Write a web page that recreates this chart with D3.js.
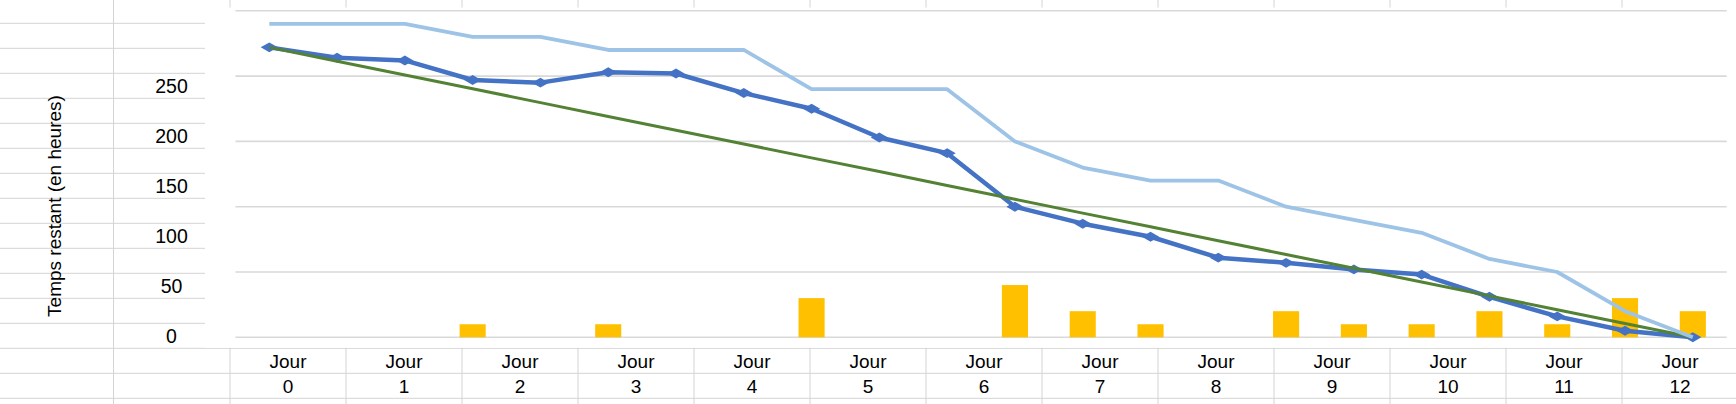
<!DOCTYPE html>
<html>
<head>
<meta charset="utf-8">
<script src="https://cdn.jsdelivr.net/npm/d3@7"></script>
<style>
  html, body { margin: 0; padding: 0; background: #fff; }
  svg { display: block; }
  text { font-family: "Liberation Sans", Arial, sans-serif; fill: #000; }
</style>
</head>
<body>
<svg id="chart" width="1736" height="404"></svg>
<script>
// ---- data ----
const steps = [0, 1, 2, 3, 4, 5, 6, 7, 8, 9, 10, 11, 12, 13, 14, 15, 16, 17, 18, 19, 20, 21];
const remaining = [222, 214, 212, 197, 195, 203, 202, 187, 175, 153, 141, 100, 87, 77, 61, 57, 52, 48, 31, 16, 5, 0];
const estimate = [240, 240, 240, 230, 230, 220, 220, 220, 190, 190, 190, 150, 130, 120, 120, 100, 90, 80, 60, 50, 20, 0];
const ideal = [222, 211.4, 200.9, 190.3, 179.7, 169.1, 158.6, 148, 137.4, 126.9, 116.3, 105.7, 95.1, 84.6, 74, 63.4, 52.9, 42.3, 31.7, 21.1, 10.6, 0];
const added = [0, 0, 0, 10, 0, 10, 0, 0, 30, 0, 0, 40, 20, 10, 0, 20, 10, 10, 20, 10, 30, 20];
const yTicks = [0, 50, 100, 150, 200, 250];
const dayLabels = ["0", "1", "2", "3", "4", "5", "6", "7", "8", "9", "10", "11", "12"];
const yTitle = "Temps restant (en heures)";

// ---- layout ----
const W = 1736, H = 404;
const svg = d3.select("#chart");
const cellLine = "#d4d4d4";

// spreadsheet background grid
const rowYs = d3.range(0, 16).map(k => 23.3 + 25 * k);
const colScale = d3.scaleBand().domain(dayLabels).range([230, 230 + 116 * dayLabels.length]);

svg.append("g").selectAll("line").data(rowYs).join("line")
  .attr("x1", 0).attr("x2", W).attr("y1", d => d).attr("y2", d => d)
  .attr("stroke", cellLine).attr("stroke-width", 1);
svg.append("line").attr("x1", 113.5).attr("x2", 113.5).attr("y1", 0).attr("y2", H)
  .attr("stroke", cellLine);
svg.append("g").selectAll("line").data(dayLabels).join("line")
  .attr("x1", d => colScale(d)).attr("x2", d => colScale(d)).attr("y1", 0).attr("y2", H)
  .attr("stroke", cellLine);

// chart object (white) covering grid
svg.append("rect").attr("x", 205).attr("y", 7.6).attr("width", W - 205).attr("height", 348.3 - 7.6 - 0.5)
  .attr("fill", "#fff");

// y tick labels in cells
const labelY = d3.scaleLinear().domain([0, 250]).range([335.8, 85.8]);
svg.append("g").selectAll("text").data(yTicks).join("text")
  .attr("x", 171.5).attr("y", d => labelY(d) + 7)
  .attr("text-anchor", "middle").style("font-size", "19.5px")
  .text(d => d);

// y title
svg.append("text")
  .attr("transform", "translate(61,206) rotate(-90)")
  .attr("text-anchor", "middle").style("font-size", "19px")
  .text(yTitle);

// day labels in cells
const dayG = svg.append("g").selectAll("g").data(dayLabels).join("g")
  .attr("transform", d => `translate(${colScale(d) + colScale.bandwidth() / 2},0)`);
dayG.append("text").attr("y", 368).attr("text-anchor", "middle").style("font-size", "19px").text("Jour");
dayG.append("text").attr("y", 392.7).attr("text-anchor", "middle").style("font-size", "19px").text(d => d);

// ---- chart scales ----
const x = d3.scaleBand().domain(steps).range([235.4, 1726.7]).paddingInner(0).paddingOuter(0);
const cx = i => x(i) + x.bandwidth() / 2;
const y = d3.scaleLinear().domain([0, 250]).range([337.3, 10.8]);

// gridlines
svg.append("g").selectAll("line").data(yTicks).join("line")
  .attr("x1", 235.4).attr("x2", 1726.7)
  .attr("y1", d => y(d)).attr("y2", d => y(d))
  .attr("stroke", "#d9d9d9").attr("stroke-width", 1.6);

// bars
const barW = x.bandwidth() * 0.385;
svg.append("g").selectAll("rect").data(steps.filter(i => added[i] > 0)).join("rect")
  .attr("x", i => cx(i) - barW / 2).attr("width", barW)
  .attr("y", i => y(added[i])).attr("height", i => y(0) - y(added[i]))
  .attr("fill", "#FFC000");

const line = arr => d3.line().x(i => cx(i)).y(i => y(arr[i]))(steps);

// remaining (dark blue, markers)
svg.append("path").attr("d", line(remaining)).attr("fill", "none")
  .attr("stroke", "#4472C4").attr("stroke-width", 4.5).attr("stroke-linejoin", "round");
svg.append("g").selectAll("path").data(steps).join("path")
  .attr("d", d3.symbol(d3.symbolDiamond, 85)())
  .attr("transform", i => `translate(${cx(i)},${y(remaining[i])}) rotate(90)`)
  .attr("fill", "#4472C4");

// ideal (green)
svg.append("path").attr("d", line(ideal)).attr("fill", "none")
  .attr("stroke", "#548235").attr("stroke-width", 3);

// estimate (light blue)
svg.append("path").attr("d", line(estimate)).attr("fill", "none")
  .attr("stroke", "#9DC3E6").attr("stroke-width", 3.8).attr("stroke-linejoin", "round");
</script>
</body>
</html>
